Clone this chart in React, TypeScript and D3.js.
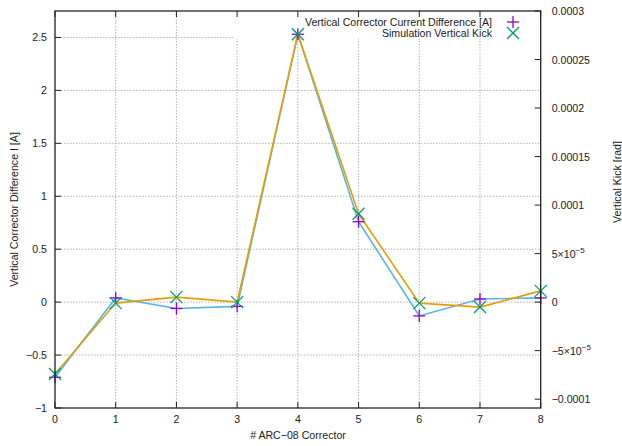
import React from 'react';
import * as d3 from 'd3';

// corrector index 0..8
const correctors = [0, 1, 2, 3, 4, 5, 6, 7, 8];
// measured current difference [A] (left axis)
const currentDiff = [-0.71, 0.04, -0.06, -0.04, 2.53, 0.76, -0.13, 0.03, 0.04];
// simulated vertical kick [rad] (right axis)
const simKick = [-7.4e-5, -1e-6, 5.2e-6, 0, 2.76e-4, 9.1e-5, -1e-6, -5.1e-6, 1.16e-5];

const yTicks = [-1, -0.5, 0, 0.5, 1, 1.5, 2, 2.5];
const y2Ticks = [-0.0001, -0.00005, 0, 0.00005, 0.0001, 0.00015, 0.0002, 0.00025, 0.0003];

const W = 622;
const H = 446;
const m = { left: 55, right: 540.7, top: 11, bottom: 408 };

const PURPLE = '#9400d3';
const GREEN = '#009e73';
const BLUE = '#56b4e9';
const ORANGE = '#e69f00';
const FONT = '"Liberation Sans", Arial, Helvetica, sans-serif';
const FS = 10.6;

const y2Label = (v: number) => {
  if (v === 0.00005) return <><tspan>5×10</tspan><tspan dy={-5} fontSize={8}>−5</tspan></>;
  if (v === -0.00005) return <><tspan>−5×10</tspan><tspan dy={-5} fontSize={8}>−5</tspan></>;
  if (v === 0) return '0';
  const s = String(+v.toPrecision(3));
  return s.replace('-', '−');
};

const App = () => {
  const x = d3.scaleLinear().domain([0, 8]).range([m.left, m.right]);
  const y = d3.scaleLinear().domain([-1, 2.75]).range([m.bottom, m.top]);
  const y2 = d3.scaleLinear().domain([-0.0003 / 2.75, 0.0003]).range([m.bottom, m.top]);

  const lineA = d3.line<number>().x((_, i) => x(correctors[i])).y(d => y(d));
  const lineB = d3.line<number>().x((_, i) => x(correctors[i])).y(d => y2(d));

  const plus = (cx: number, cy: number, key: string) => (
    <g key={key} stroke={PURPLE} strokeWidth={1.3}>
      <line x1={cx - 6} x2={cx + 6} y1={cy} y2={cy} />
      <line x1={cx} x2={cx} y1={cy - 6} y2={cy + 6} />
    </g>
  );
  const cross = (cx: number, cy: number, key: string) => (
    <g key={key} stroke={GREEN} strokeWidth={1.3}>
      <line x1={cx - 6} x2={cx + 6} y1={cy - 6} y2={cy + 6} />
      <line x1={cx - 6} x2={cx + 6} y1={cy + 6} y2={cy - 6} />
    </g>
  );

  return (
    <svg width={W} height={H} style={{ position: 'absolute', left: 0, top: 0 }} fontFamily={FONT}>
      <rect width={W} height={H} fill="#fff" />
      {/* grid */}
      <g stroke="#a0a0a0" strokeWidth={0.8} strokeDasharray="1.5,1.5">
        {correctors.slice(1, -1).map(c => (
          <line key={'gx' + c} x1={x(c)} x2={x(c)} y1={m.top} y2={m.bottom} />
        ))}
        {yTicks.slice(1).map(t => (
          <line key={'gy' + t} x1={m.left} x2={m.right} y1={y(t)} y2={y(t)} />
        ))}
      </g>
      {/* key box blanks the grid */}
      <rect x={233} y={m.top} width={m.right - 233} height={27.5} fill="#fff" />
      {/* data */}
      <path d={lineA(currentDiff) || ''} fill="none" stroke={BLUE} strokeWidth={1.6} />
      <path d={lineB(simKick) || ''} fill="none" stroke={ORANGE} strokeWidth={1.6} />
      {currentDiff.map((d, i) => plus(x(correctors[i]), y(d), 'p' + i))}
      {simKick.map((d, i) => cross(x(correctors[i]), y2(d), 'c' + i))}
      {/* frame and ticks */}
      <rect x={m.left} y={m.top} width={m.right - m.left} height={m.bottom - m.top} fill="none" stroke="#222" strokeWidth={1.3} />
      <g stroke="#222" strokeWidth={1}>
        {correctors.map(c => (
          <g key={'tx' + c}>
            <line x1={x(c)} x2={x(c)} y1={m.bottom} y2={m.bottom - 6} />
            <line x1={x(c)} x2={x(c)} y1={m.top} y2={m.top + 6} />
          </g>
        ))}
        {yTicks.map(t => (
          <line key={'ty' + t} x1={m.left} x2={m.left + 6} y1={y(t)} y2={y(t)} />
        ))}
        {y2Ticks.map(t => (
          <line key={'ty2' + t} x1={m.right} x2={m.right - 6} y1={y2(t)} y2={y2(t)} />
        ))}
      </g>
      {/* tick labels */}
      <g fontSize={FS} fill="#222">
        {correctors.map(c => (
          <text key={'lx' + c} x={x(c)} y={m.bottom + 15} textAnchor="middle">{c}</text>
        ))}
        {yTicks.map(t => (
          <text key={'ly' + t} x={m.left - 8} y={y(t) + 4} textAnchor="end">{String(t).replace('-', '−')}</text>
        ))}
        {y2Ticks.map(t => (
          <text key={'ly2' + t} x={m.right + 11} y={y2(t) + 4} textAnchor="start">{y2Label(t)}</text>
        ))}
      </g>
      {/* axis titles */}
      <g fontSize={FS} fill="#222">
        <text x={298} y={439} textAnchor="middle"># ARC−08 Corrector</text>
        <text transform={`translate(18,${(m.top + m.bottom) / 2}) rotate(-90)`} textAnchor="middle">Vertical Corrector Difference I [A]</text>
        <text transform={`translate(621,182) rotate(-90)`} textAnchor="middle">Vertical Kick [rad]</text>
      </g>
      {/* legend */}
      <g fontSize={FS} fill="#222">
        <text x={492} y={26} textAnchor="end">Vertical Corrector Current Difference [A]</text>
        <text x={492} y={37} textAnchor="end">Simulation Vertical Kick</text>
        {plus(513, 22, 'lp')}
        {cross(513, 33, 'lc')}
      </g>
    </svg>
  );
};

export default App;
